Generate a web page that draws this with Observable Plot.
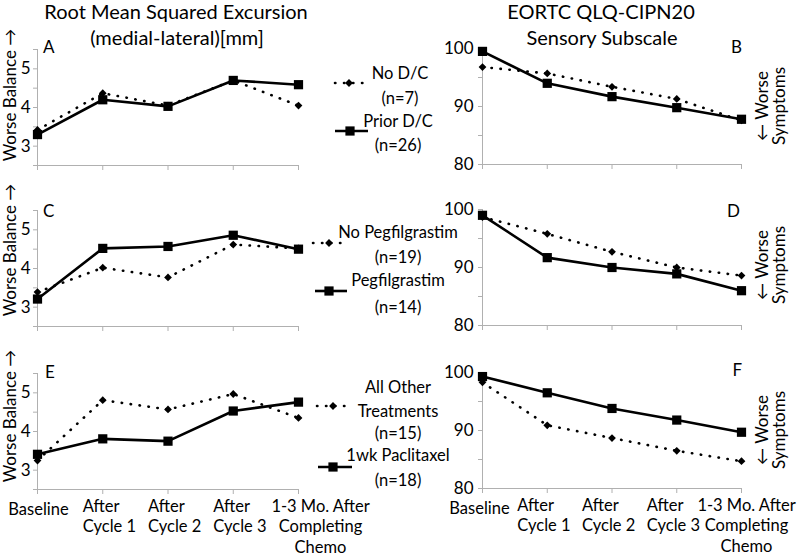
<!DOCTYPE html>
<html>
<head>
<meta charset="utf-8">
<script src="https://cdn.jsdelivr.net/npm/d3@7"></script>
<script src="https://cdn.jsdelivr.net/npm/@observablehq/plot@0.6"></script>
<style>
  html, body { margin: 0; padding: 0; background: white; overflow: hidden; }
  #chart { position: relative; width: 800px; height: 557px; font-family: Lato, sans-serif; }
</style>
</head>
<body>
<div id="chart"></div>
<script>
// ---------- data ----------
const categories = ["Baseline", "After\nCycle 1", "After\nCycle 2", "After\nCycle 3", "1-3 Mo. After\nCompleting\nChemo"];

const noDC_rms      = [3.42, 4.37, 4.05, 4.70, 4.05];
const priorDC_rms   = [3.30, 4.20, 4.03, 4.70, 4.59];
const noDC_cipn     = [96.8, 95.7, 93.4, 91.3, 87.6];
const priorDC_cipn  = [99.5, 94.0, 91.7, 89.8, 87.8];

const noPeg_rms     = [3.39, 4.02, 3.77, 4.62, 4.52];
const peg_rms       = [3.21, 4.52, 4.57, 4.86, 4.50];
const noPeg_cipn    = [98.7, 95.8, 92.7, 90.0, 88.6];
const peg_cipn      = [99.0, 91.7, 90.0, 88.9, 86.0];

const otherTx_rms   = [3.25, 4.81, 4.57, 4.97, 4.35];
const pac_rms       = [3.41, 3.81, 3.75, 4.53, 4.76];
const otherTx_cipn  = [98.3, 90.9, 88.7, 86.5, 84.7];
const pac_cipn      = [99.3, 96.5, 93.8, 91.8, 89.7];

const rmsTickLabels  = [3, 4, 5];
const cipnTickLabels = [80, 90, 100];

const dcLabels  = ["No D/C\n(n=7)", "Prior D/C\n(n=26)"];
const pegLabels = ["No Pegfilgrastim\n(n=19)", "Pegfilgrastim\n(n=14)"];
const txLabels  = ["All Other\nTreatments\n(n=15)", "1wk Paclitaxel\n(n=18)"];

const titleLeft  = ["Root Mean Squared Excursion", "(medial-lateral)[mm]"];
const titleRight = ["EORTC QLQ-CIPN20", "Sensory Subscale"];
const yLabelLeft  = "Worse Balance \u2192";
const yLabelRight = ["\u2190 Worse", "Symptoms"];
const panelLetters = ["A", "B", "C", "D", "E", "F"];

// ---------- layout ----------
const chart = document.getElementById("chart");
const AXIS = "#b0b0b0";
const PH = 116;
const DOT = {strokeWidth: 2.6, strokeDasharray: "0.4 8.6", strokeLinecap: "round"};

function panel(o) {
  const rows1 = o.s1.map((v, i) => ({i, v}));
  const rows2 = o.s2.map((v, i) => ({i, v}));
  const yTicks = d3.range(o.dom[0], o.dom[1] + 1e-9, o.step);
  const marks = [
    Plot.line(rows1, {x: "i", y: "v", stroke: "black", ...DOT}),
    Plot.line(rows2, {x: "i", y: "v", stroke: "black", strokeWidth: 2.6}),
    Plot.dot(rows1, {x: "i", y: "v", symbol: "diamond2", r: 3.5, fill: "black"}),
    Plot.dot(rows2, {x: "i", y: "v", symbol: "square", r: 5.2, fill: "black"}),
    Plot.text(o.labels, {x: 0, y: d => d, text: d => String(d), textAnchor: "end", dx: o.ldx, fill: "black", fontSize: 17, fontFamily: "Lato"})
  ];
  if (o.xlab) {
    const common = {x: d => d, text: d => categories[d], frameAnchor: "bottom", lineAnchor: "top", dy: 8,
                    fill: "black", fontSize: 16.5, lineHeight: 1.24, fontFamily: "Lato"};
    marks.push(Plot.text([0], {...common, textAnchor: "middle", dx: o.xlab[0], dy: 11}));
    marks.push(Plot.text([1, 2, 3], {...common, textAnchor: "start", dx: o.xlab[1]}));
    marks.push(Plot.text([4], {...common, textAnchor: "middle", dx: o.xlab[2]}));
  }
  const mb = o.xlab ? 68 : 10;
  const svg = Plot.plot({
    width: o.width, height: 10 + PH + mb,
    marginTop: 10, marginBottom: mb, marginLeft: o.ml, marginRight: o.mr,
    x: {domain: [0, 4], ticks: [0, 1, 2, 3, 4], tickSize: 5, tickFormat: () => "", line: true, label: null},
    y: {domain: o.dom, ticks: yTicks, tickSize: 4, tickFormat: () => "", line: true, label: null},
    style: {background: "transparent", overflow: "visible", color: AXIS, fontFamily: "Lato, sans-serif"},
    marks
  });
  svg.style.position = "absolute";
  svg.style.left = o.left + "px";
  svg.style.top = (o.top - 10) + "px";
  chart.appendChild(svg);
}

const L = {left: 0, width: 340, ml: 37, mr: 42, dom: [2.5, 5.5], step: 0.5, labels: rmsTickLabels, ldx: -7};
const R = {left: 400, width: 400, ml: 82, mr: 59, dom: [80, 100], step: 5, labels: cipnTickLabels, ldx: -9};

panel({...L, top: 49,  s1: noDC_rms,     s2: priorDC_rms});
panel({...R, top: 48,  s1: noDC_cipn,    s2: priorDC_cipn});
panel({...L, top: 210, s1: noPeg_rms,    s2: peg_rms});
panel({...R, top: 209, s1: noPeg_cipn,   s2: peg_cipn});
panel({...L, top: 373, s1: otherTx_rms,  s2: pac_rms,  xlab: [1, -20, 22]});
panel({...R, top: 372, s1: otherTx_cipn, s2: pac_cipn, xlab: [-3, -30, 5]});

// ---------- annotations (titles, legends, side labels) ----------
const ov = d3.select(chart).append("svg")
  .attr("width", 800).attr("height", 557)
  .style("position", "absolute").style("left", 0).style("top", 0)
  .style("overflow", "visible")
  .attr("font-family", "Lato, sans-serif").attr("fill", "black");

function txt(x, y, s, size = 16, anchor = "middle", rot = 0) {
  ov.append("text")
    .attr("transform", `translate(${x},${y})` + (rot ? ` rotate(${rot})` : ""))
    .attr("text-anchor", anchor).attr("dy", "0.36em")
    .attr("font-size", size).text(s);
}

// titles
txt(176, 12, titleLeft[0], 20);
txt(177, 38, titleLeft[1], 20);
txt(601, 12, titleRight[0], 20);
txt(602, 38, titleRight[1], 20);

// panel letters
txt(43, 47, panelLetters[0], 17, "start");
txt(742, 47, panelLetters[1], 17, "end");
txt(43, 211, panelLetters[2], 17, "start");
txt(740, 211, panelLetters[3], 17, "end");
txt(45, 372, panelLetters[4], 17, "start");
txt(742, 370, panelLetters[5], 17, "end");

// side labels
[95, 250, 416].forEach(cy => txt(10, cy, yLabelLeft, 17, "middle", -90));
[106, 265, 430].forEach(cy => {
  txt(762, cy, yLabelRight[0], 17, "middle", -90);
  txt(779, cy, yLabelRight[1], 17, "middle", -90);
});

// legends
const sym = (type, r) => d3.symbol(type, Math.PI * r * r)();
function swatch(x1, x2, y, mx, dotted) {
  const ln = ov.append("line").attr("x1", x1).attr("x2", x2).attr("y1", y).attr("y2", y)
    .attr("stroke", "black").attr("stroke-width", 2.6);
  if (dotted) ln.attr("stroke-dasharray", DOT.strokeDasharray).attr("stroke-linecap", "round");
  ov.append("path").attr("transform", `translate(${mx},${y})`)
    .attr("d", dotted ? sym(d3.symbolDiamond2, 3.5) : sym(d3.symbolSquare, 5.2));
}
function legendText(lines, ys, x) {
  lines.forEach((s, k) => txt(x, ys[k], s, 16.5));
}

// panel A legend
swatch(335, 368, 83, 349, true);
swatch(335, 368, 131, 350, false);
legendText(dcLabels[0].split("\n"), [73, 98], 400);
legendText(dcLabels[1].split("\n"), [121, 145], 398);

// panel C legend
swatch(313, 345, 243, 329, true);
swatch(315, 347, 291, 329, false);
legendText(pegLabels[0].split("\n"), [232, 257], 398);
legendText(pegLabels[1].split("\n"), [280, 307], 398);

// panel E legend
swatch(317, 352, 406, 333, true);
swatch(318, 352, 467, 333, false);
legendText(txLabels[0].split("\n"), [387, 411, 433], 398);
legendText(txLabels[1].split("\n"), [455, 480], 398);
</script>
</body>
</html>
